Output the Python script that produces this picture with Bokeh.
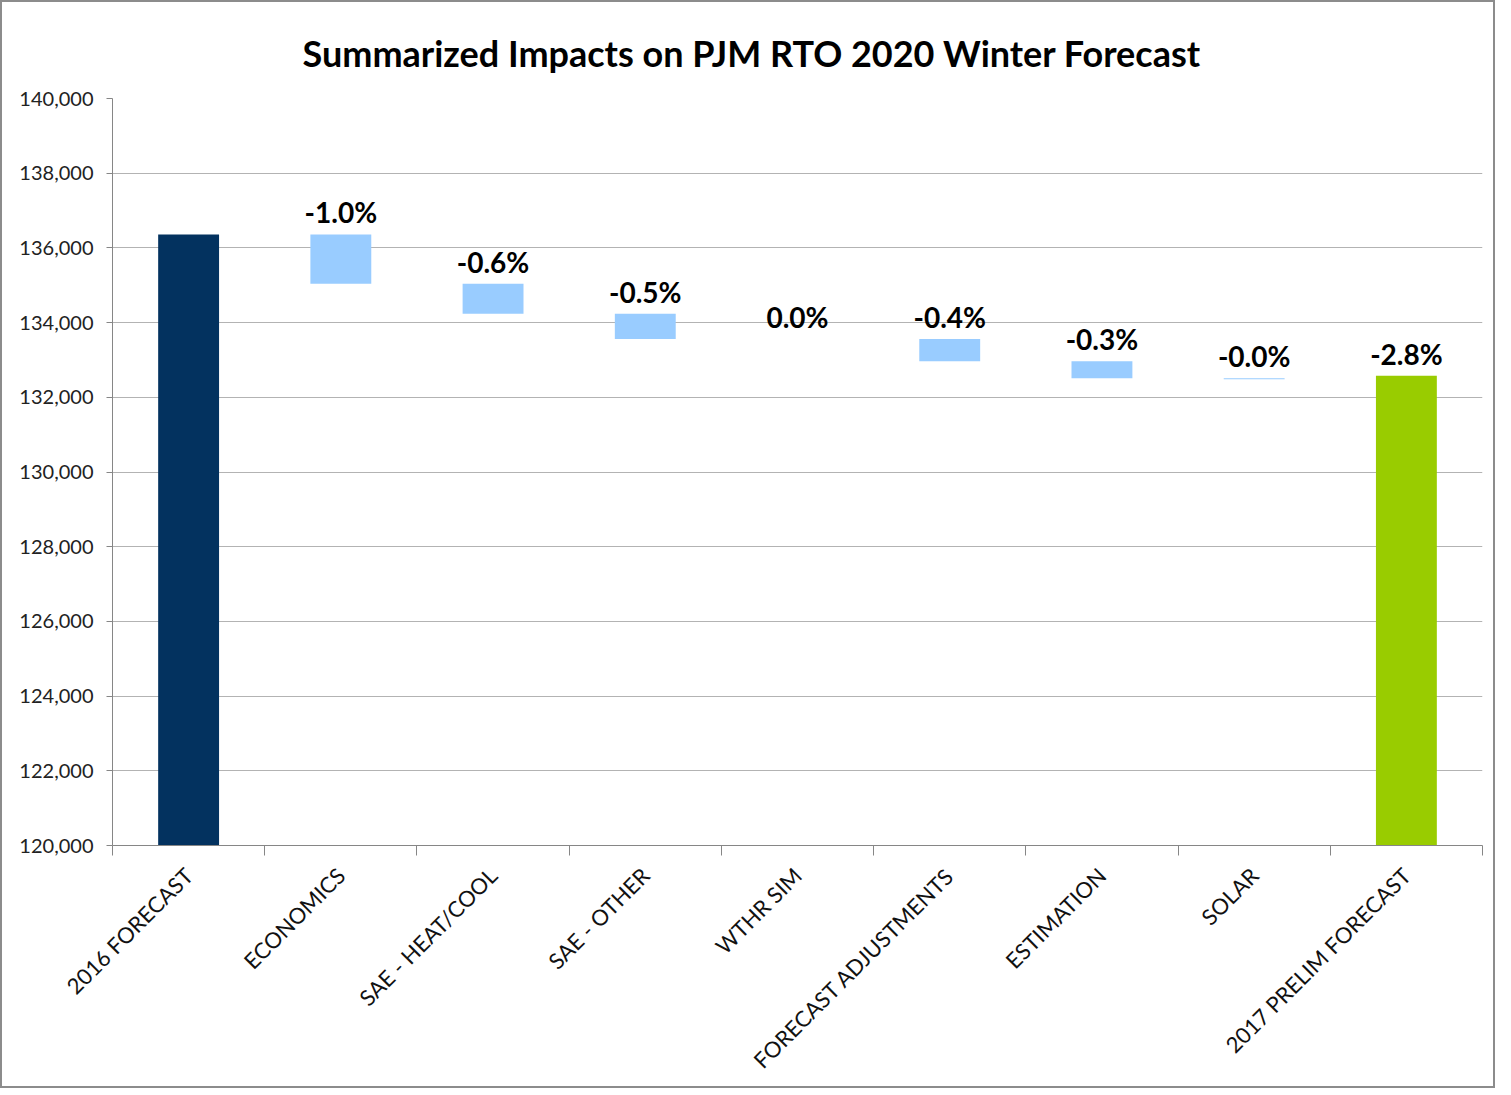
from math import pi
from bokeh.plotting import figure
from bokeh.models import ColumnDataSource, FixedTicker, NumeralTickFormatter, Range1d, LabelSet
from bokeh.core.properties import value
from bokeh.embed import file_html
from bokeh.resources import INLINE

# ---- data ----
categories = ["2016 FORECAST", "ECONOMICS", "SAE - HEAT/COOL", "SAE - OTHER", "WTHR SIM",
              "FORECAST ADJUSTMENTS", "ESTIMATION", "SOLAR", "2017 PRELIM FORECAST"]
start_value = 136360
impacts = [-1320, -804, -678, 0, -590, -456, -30]
end_value = 132580
pct_labels = ["", "-1.0%", "-0.6%", "-0.5%", "0.0%", "-0.4%", "-0.3%", "-0.0%", "-2.8%"]
y_min, y_max, y_step = 120000, 140000, 2000
title_text = "Summarized Impacts on PJM RTO 2020 Winter Forecast"

# ---- derived waterfall geometry ----
xs = list(range(len(categories)))
bottoms, tops, colors = [y_min], [start_value], ["#03325F"]
level = start_value
for d in impacts:
    bottoms.append(level + d)
    tops.append(level)
    colors.append("#99CCFF")
    level += d
bottoms.append(y_min)
tops.append(end_value)
colors.append("#99CC00")

src = ColumnDataSource(dict(x=xs, bottom=bottoms, top=tops, color=colors, label=pct_labels))

FONT = "Lato"
FRAME_W, FRAME_H = 1370, 747
p = figure(width=1491, height=1075, output_backend="svg", toolbar_location=None,
           x_range=Range1d(-0.5, len(categories) - 0.5), y_range=Range1d(y_min, y_max),
           frame_width=FRAME_W, frame_height=FRAME_H,
           min_border_left=110, min_border_top=96, min_border_right=11, min_border_bottom=222)
p.styles = {"border": "2px solid #8c8c8c"}
p.background_fill_color = "white"
p.border_fill_color = "white"
p.outline_line_color = None

p.vbar(x="x", bottom="bottom", top="top", width=0.4, fill_color="color", line_color=None, source=src)

labels = LabelSet(x="x", y="top", text="label", source=src, text_align="center",
                  text_baseline="middle", y_offset=22, text_font=value(FONT),
                  text_font_style="bold", text_font_size="28px", text_color="black")
p.add_layout(labels)

# title
p.title.text = title_text
p.title.text_font = FONT
p.title.text_font_style = "bold"
p.title.text_font_size = "36px"
p.title.text_color = "black"
p.title.align = "left"
p.title.vertical_align = "top"
p.title.offset = 190
p.title.standoff = 43

# y axis
yax = p.yaxis[0]
yax.ticker = FixedTicker(ticks=list(range(y_min, y_max + 1, y_step)))
yax.formatter = NumeralTickFormatter(format="0,0")
yax.axis_line_color = "#868686"
yax.major_tick_line_color = "#868686"
yax.major_tick_out = 6
yax.major_tick_in = 0
yax.minor_tick_line_color = None
yax.major_label_text_font = FONT
yax.major_label_text_font_size = "20px"
yax.major_label_text_color = "#222222"
yax.major_label_standoff = 13

# x axis: labels at centres, tick marks at boundaries
xax = p.xaxis[0]
xax.ticker = FixedTicker(ticks=xs, minor_ticks=[i - 0.5 for i in range(len(categories) + 1)])
xax.major_label_overrides = {i: c for i, c in zip(xs, categories)}
xax.major_label_orientation = pi / 4
xax.axis_line_color = "#868686"
xax.major_tick_line_color = None
xax.major_tick_out = 0
xax.major_tick_in = 0
xax.minor_tick_line_color = "#868686"
xax.minor_tick_out = 10
xax.minor_tick_in = 0
xax.major_label_text_font = FONT
xax.major_label_text_font_size = "22px"
xax.major_label_text_color = "#111111"
xax.major_label_standoff = 16

p.xgrid.grid_line_color = None
p.ygrid.ticker = FixedTicker(ticks=list(range(y_min, y_max + 1, y_step)))
p.ygrid.grid_line_color = "#b3b3b3"
p.ygrid.grid_line_width = 1

open("out.html", "w").write(file_html(p, INLINE))
